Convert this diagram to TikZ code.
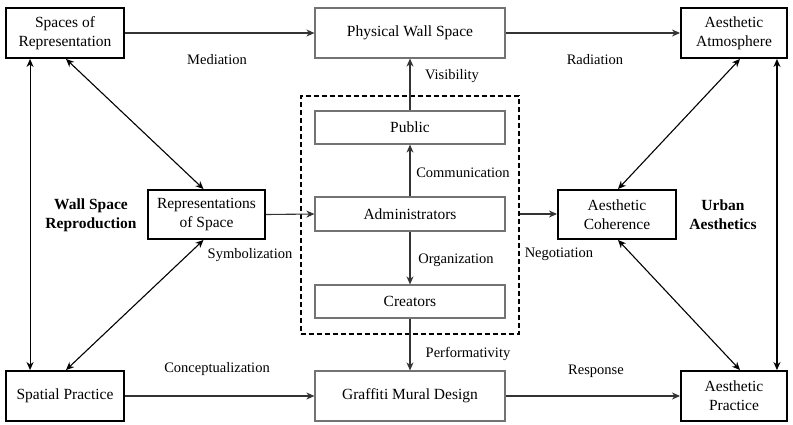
\documentclass[tikz,border=0pt]{standalone}
\usepackage{fontspec}
\setmainfont{Liberation Serif}
\usetikzlibrary{arrows.meta,calc}
\begin{document}
\begin{tikzpicture}[x=1pt,y=-1pt,
  thickbox/.style={draw=black,line width=1.9pt,align=center,inner sep=0pt,font=\fontsize{15.5}{19}\selectfont},
  greybox/.style={draw=black!55,line width=1.2pt,align=center,inner sep=0pt,font=\fontsize{15.5}{19}\selectfont},
  lbl/.style={inner sep=0pt,font=\fontsize{14.5}{17}\selectfont},
  bold/.style={inner sep=0pt,align=center,font=\fontsize{15.5}{19}\selectfont\bfseries},
  tip/.style={},
  arr/.style={draw=black!80,line width=1.1pt,-{Stealth[length=8pt,width=7pt,inset=2.5pt]}},
  darr/.style={draw=black,line width=1.1pt,{Stealth[length=8pt,width=7pt,inset=2.5pt]}-{Stealth[length=8pt,width=7pt,inset=2.5pt]}}
]
\useasboundingbox (0,0) rectangle (793,424);
% dashed container
\node[draw=black,line width=1.1pt,dash pattern=on 5pt off 3pt,minimum width=218pt,minimum height=238pt,inner sep=0pt] (dash) at (410,215) {};
% boxes
\node[thickbox,minimum width=118pt,minimum height=50pt] (SoR) at (65,33) {Spaces of\\Representation};
\node[greybox,minimum width=190pt,minimum height=50pt] (PWS) at (410,33) {Physical Wall Space};
\node[thickbox,minimum width=106pt,minimum height=50pt] (AA) at (734,33) {Aesthetic\\Atmosphere};
\node[thickbox,minimum width=117pt,minimum height=49pt] (RoS) at (206.5,214.5) {Representations\\of Space};
\node[greybox,minimum width=190pt,minimum height=33pt] (Pub) at (410,127.5) {Public};
\node[greybox,minimum width=190pt,minimum height=34pt] (Adm) at (410,214) {Administrators};
\node[greybox,minimum width=190pt,minimum height=33pt] (Cre) at (410,301.5) {Creators};
\node[thickbox,minimum width=118pt,minimum height=49pt] (AC) at (617,214.5) {Aesthetic\\Coherence};
\node[thickbox,minimum width=118pt,minimum height=50pt] (SP) at (65,396) {Spatial Practice};
\node[greybox,minimum width=190pt,minimum height=50pt] (GMD) at (410,396) {Graffiti Mural Design};
\node[thickbox,minimum width=106pt,minimum height=50pt] (AP) at (734,396) {Aesthetic\\Practice};
% labels
\node[lbl] (lMed) at (217,60) {Mediation};
\node[lbl] (lRad) at (595,60) {Radiation};
\node[lbl] (lVis) at (452,76) {Visibility};
\node[lbl] (lCom) at (463,173) {Communication};
\node[lbl] (lOrg) at (456,260) {Organization};
\node[lbl] (lPer) at (468,354) {Performativity};
\node[lbl] (lCon) at (217,369) {Conceptualization};
\node[lbl] (lRes) at (596,371) {Response};
\node[lbl] (lSym) at (250,255) {Symbolization};
\node[lbl] (lNeg) at (559,254) {Negotiation};
\node[bold] (lWSR) at (91,215) {Wall Space\\Reproduction};
\node[bold] (lUA) at (723,215) {Urban\\Aesthetics};
% horizontal arrows
\draw[arr] (SoR.east) -- (PWS.west);
\draw[arr] (PWS.east) -- (AA.west);
\draw[arr] (SP.east) -- (GMD.west);
\draw[arr] (GMD.east) -- (AP.west);
\draw[arr] (RoS.east) -- (Adm.west);
\draw[arr] (Adm.east -| dash.east) -- (Adm.east -| AC.west);
% vertical center arrows
\draw[arr] (Pub.north) -- (PWS.south);
\draw[arr] (Adm.north) -- (Pub.south);
\draw[arr] (Adm.south) -- (Cre.north);
\draw[arr] (Cre.south) -- (GMD.north);
% side verticals
\draw[darr] ([xshift=25pt]SoR.south west) -- ([xshift=25pt]SP.north west);
\draw[darr] ([xshift=-11pt]AA.south east) -- ([xshift=-11pt]AP.north east);
% diagonals
\draw[darr] ([xshift=1pt]SoR.south) -- ([xshift=-3pt]RoS.north);
\draw[darr] ([xshift=-3pt]RoS.south) -- ([xshift=1pt]SP.north);
\draw[darr] ([xshift=6pt]AA.south) -- ([xshift=1pt]AC.north);
\draw[darr] ([xshift=1pt]AC.south) -- ([xshift=6pt]AP.north);
\end{tikzpicture}
\end{document}
